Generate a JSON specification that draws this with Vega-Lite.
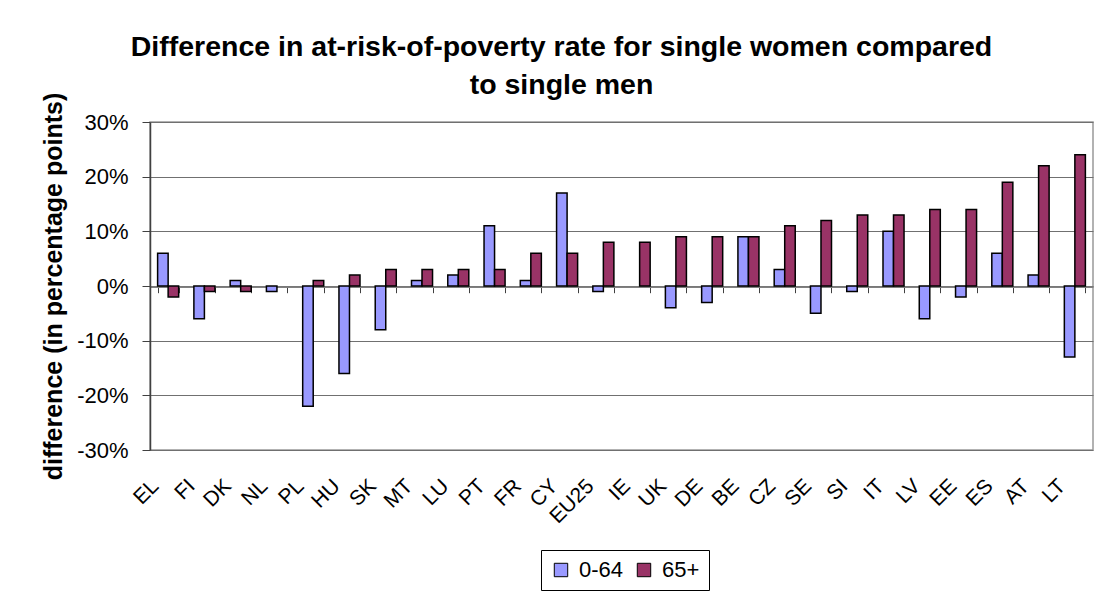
{
  "$schema": "https://vega.github.io/schema/vega-lite/v6.json",
  "width": 943,
  "height": 328,
  "autosize": {"type": "none"},
  "padding": {"left": 150, "top": 122, "right": 11, "bottom": 147},
  "background": "white",
  "title": {
    "text": ["Difference in at-risk-of-poverty rate for single women compared", "to single men"],
    "font": "Liberation Sans",
    "fontSize": 28.5,
    "fontWeight": "bold",
    "color": "black",
    "anchor": "middle",
    "frame": "group",
    "dx": -60,
    "lineHeight": 38,
    "offset": -7
  },
  "data": {
    "values": [
      {"country": "EL", "group": "0-64", "value": 6}, {"country": "EL", "group": "65+", "value": -2},
      {"country": "FI", "group": "0-64", "value": -6}, {"country": "FI", "group": "65+", "value": -1},
      {"country": "DK", "group": "0-64", "value": 1}, {"country": "DK", "group": "65+", "value": -1},
      {"country": "NL", "group": "0-64", "value": -1}, {"country": "NL", "group": "65+", "value": null},
      {"country": "PL", "group": "0-64", "value": -22}, {"country": "PL", "group": "65+", "value": 1},
      {"country": "HU", "group": "0-64", "value": -16}, {"country": "HU", "group": "65+", "value": 2},
      {"country": "SK", "group": "0-64", "value": -8}, {"country": "SK", "group": "65+", "value": 3},
      {"country": "MT", "group": "0-64", "value": 1}, {"country": "MT", "group": "65+", "value": 3},
      {"country": "LU", "group": "0-64", "value": 2}, {"country": "LU", "group": "65+", "value": 3},
      {"country": "PT", "group": "0-64", "value": 11}, {"country": "PT", "group": "65+", "value": 3},
      {"country": "FR", "group": "0-64", "value": 1}, {"country": "FR", "group": "65+", "value": 6},
      {"country": "CY", "group": "0-64", "value": 17}, {"country": "CY", "group": "65+", "value": 6},
      {"country": "EU25", "group": "0-64", "value": -1}, {"country": "EU25", "group": "65+", "value": 8},
      {"country": "IE", "group": "0-64", "value": null}, {"country": "IE", "group": "65+", "value": 8},
      {"country": "UK", "group": "0-64", "value": -4}, {"country": "UK", "group": "65+", "value": 9},
      {"country": "DE", "group": "0-64", "value": -3}, {"country": "DE", "group": "65+", "value": 9},
      {"country": "BE", "group": "0-64", "value": 9}, {"country": "BE", "group": "65+", "value": 9},
      {"country": "CZ", "group": "0-64", "value": 3}, {"country": "CZ", "group": "65+", "value": 11},
      {"country": "SE", "group": "0-64", "value": -5}, {"country": "SE", "group": "65+", "value": 12},
      {"country": "SI", "group": "0-64", "value": -1}, {"country": "SI", "group": "65+", "value": 13},
      {"country": "IT", "group": "0-64", "value": 10}, {"country": "IT", "group": "65+", "value": 13},
      {"country": "LV", "group": "0-64", "value": -6}, {"country": "LV", "group": "65+", "value": 14},
      {"country": "EE", "group": "0-64", "value": -2}, {"country": "EE", "group": "65+", "value": 14},
      {"country": "ES", "group": "0-64", "value": 6}, {"country": "ES", "group": "65+", "value": 19},
      {"country": "AT", "group": "0-64", "value": 2}, {"country": "AT", "group": "65+", "value": 22},
      {"country": "LT", "group": "0-64", "value": -13}, {"country": "LT", "group": "65+", "value": 24}
    ]
  },
  "mark": {"type": "bar", "stroke": "black", "strokeWidth": 1.5},
  "encoding": {
    "x": {
      "field": "country",
      "type": "nominal",
      "sort": null,
      "scale": {"paddingInner": 0.42, "paddingOuter": 0.21},
      "axis": {
        "title": null,
        "orient": "bottom",
        "offset": -163.3,
        "grid": false,
        "domain": true,
        "domainColor": "#808080",
        "domainWidth": 1.5,
        "ticks": true,
        "tickBand": "extent",
        "tickColor": "#404040",
        "tickSize": 6,
        "labelAngle": -45,
        "labelAlign": "right",
        "labelBaseline": "middle",
        "labelPadding": 190,
        "labelOffset": -13,
        "labelOverlap": false,
        "labelFont": "Liberation Sans",
        "labelFontSize": 21,
        "labelColor": "black"
      }
    },
    "xOffset": {"field": "group", "type": "nominal", "scale": {"paddingInner": 0, "paddingOuter": 0}},
    "y": {
      "field": "value",
      "type": "quantitative",
      "scale": {"domain": [-30, 30], "nice": false, "zero": false},
      "axis": {
        "values": [-30, -20, -10, 0, 10, 20, 30],
        "labelExpr": "datum.value + '%'",
        "title": "difference (in percentage points)",
        "titleFont": "Liberation Sans",
        "titleFontSize": 25,
        "titleFontWeight": "bold",
        "titleColor": "black",
        "titlePadding": 10,
        "labelFont": "Liberation Sans",
        "labelFontSize": 22,
        "labelColor": "black",
        "labelPadding": 14,
        "tickSize": 8,
        "tickColor": "#404040",
        "domainColor": "#404040",
        "domainWidth": 1.5,
        "grid": true,
        "gridColor": "#707070",
        "gridWidth": 1.2
      }
    },
    "color": {
      "field": "group",
      "type": "nominal",
      "scale": {"domain": ["0-64", "65+"], "range": ["#9999FF", "#993366"]},
      "legend": {
        "title": null,
        "orient": "none",
        "legendX": 391,
        "legendY": 428,
        "direction": "horizontal",
        "strokeColor": "black",
        "padding": 9,
        "symbolType": "square",
        "symbolSize": 180,
        "symbolStrokeColor": "black",
        "symbolStrokeWidth": 1,
        "labelFont": "Liberation Sans",
        "labelFontSize": 22,
        "labelColor": "black",
        "labelOffset": 7,
        "columnPadding": 9
      }
    }
  },
  "config": {
    "view": {"stroke": "#999999", "strokeWidth": 1.5}
  }
}
